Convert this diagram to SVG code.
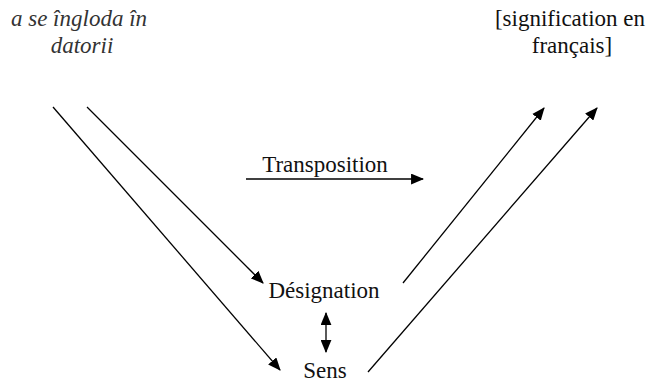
<svg xmlns="http://www.w3.org/2000/svg" width="649" height="382" viewBox="0 0 649 382">
<defs>
<marker id="ah" viewBox="0 0 12 10" refX="11" refY="5" markerWidth="13" markerHeight="11" markerUnits="userSpaceOnUse" orient="auto-start-reverse">
<path d="M0,0 L12,5 L0,10 z" fill="#000"/>
</marker>
<style>
.c{stroke:#000;stroke-width:1.3;fill:none}
.e{marker-end:url(#ah)}
</style>
</defs>
<rect width="649" height="382" fill="#fff"/>
<g font-family="Liberation Serif, Times New Roman, serif" font-size="23" fill="#111">
<g id="source" font-style="italic" fill="#333">
<text x="79" y="26" text-anchor="middle">a se îngloda în</text>
<text x="82" y="53" text-anchor="middle">datorii</text>
</g>
<g id="target">
<text x="570" y="26" text-anchor="middle">[signification en</text>
<text x="572" y="53" text-anchor="middle">français]</text>
</g>
<g id="transposition">
<text x="325" y="172" text-anchor="middle">Transposition</text>
</g>
<g id="designation">
<text x="324" y="298" text-anchor="middle">Désignation</text>
</g>
<g id="sens">
<text x="325" y="378" text-anchor="middle">Sens</text>
</g>
</g>
<g id="connectors">
<line class="c e" x1="53" y1="107" x2="280" y2="370"/>
<line class="c e" x1="87" y1="107" x2="263" y2="283"/>
<line class="c e" x1="403" y1="283" x2="544" y2="108"/>
<line class="c e" x1="368" y1="372" x2="597" y2="108"/>
<line class="c e" x1="246" y1="179" x2="423" y2="179"/>
<line class="c e" x1="326" y1="313" x2="326" y2="352" marker-start="url(#ah)"/>
</g>
</svg>
